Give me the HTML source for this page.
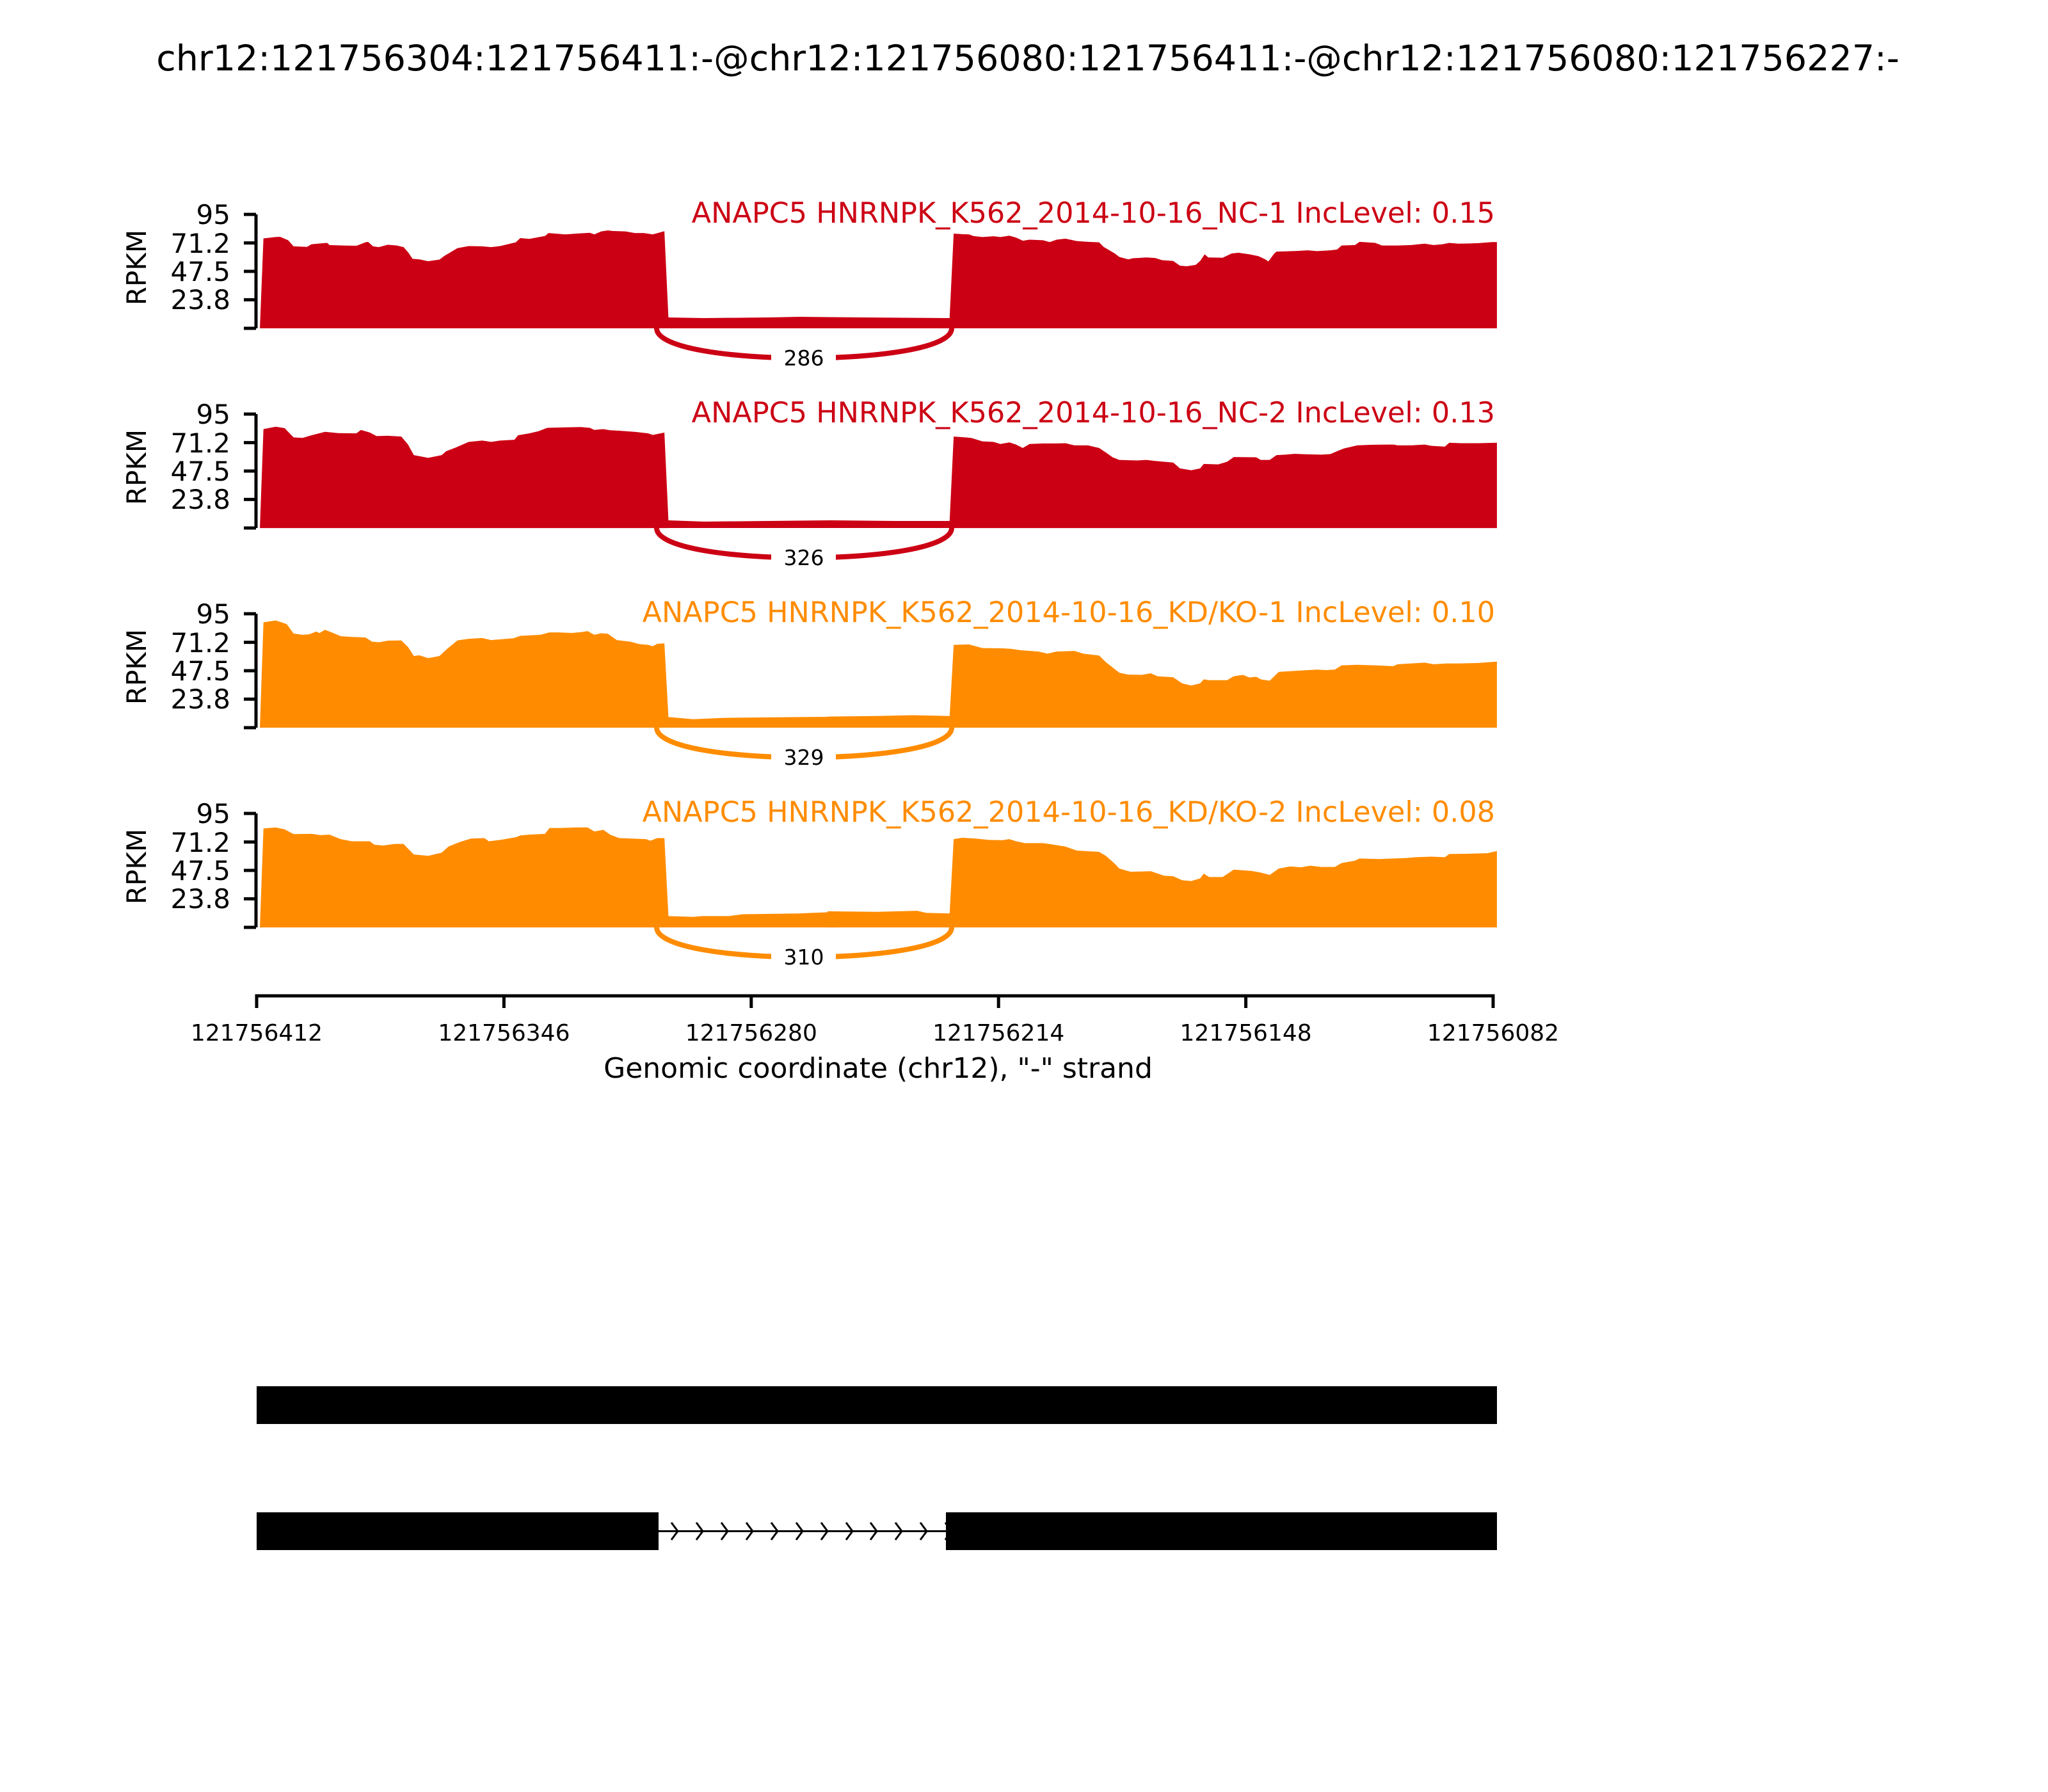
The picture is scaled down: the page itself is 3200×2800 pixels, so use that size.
<!DOCTYPE html>
<html><head><meta charset="utf-8"><style>
html,body{margin:0;padding:0;background:#fff;}
svg{display:block;}
text{font-family:"DejaVu Sans","Liberation Sans",sans-serif;}
</style></head><body>
<svg width="3200" height="2800" viewBox="0 0 3200 2800" xmlns="http://www.w3.org/2000/svg">
<rect width="3200" height="2800" fill="#fff"/>
<text x="1606" y="110" font-size="55.5" text-anchor="middle" fill="#000">chr12:121756304:121756411:-@chr12:121756080:121756411:-@chr12:121756080:121756227:-</text>

<!-- Panel 1 -->
<g fill="#cc0014">
<polygon transform="translate(150,280) scale(0.70151,0.41459)" points="365,562 373,223 400,218 410,217 428,230 440,253 470,255 480,245 500,242 515,240 520,248 550,250 580,251 600,238 606,236 617,253 630,256 650,247 670,250 685,256 695,275 705,300 720,302 740,309 765,303 775,290 805,260 830,252 860,253 880,256 900,252 935,238 945,222 965,225 1000,214 1008,203 1045,208 1070,205 1100,202 1110,208 1125,197 1140,193 1150,195 1180,197 1200,203 1220,203 1240,208 1266,196 1275,522 1275,562"/>
<polygon points="1044,513 1044,496 1100,497 1200,496 1250,495 1350,496 1484,497 1484,513"/>
<polygon transform="translate(1300,280) scale(0.70151,0.41459)" points="262,562 262,520 271,205 290,207 305,208 315,214 335,218 360,215 375,218 395,213 410,220 425,232 440,228 470,230 485,237 500,228 520,224 545,233 570,236 595,238 605,255 630,280 640,293 660,302 670,298 700,295 720,297 735,305 760,308 775,326 790,328 810,323 820,308 830,283 838,295 870,296 890,280 905,277 930,283 950,290 965,302 972,310 985,280 990,273 1010,272 1040,270 1060,268 1080,271 1110,268 1125,265 1135,250 1165,248 1175,236 1210,240 1225,250 1260,250 1290,248 1320,243 1340,248 1360,245 1375,240 1395,243 1420,242 1440,241 1470,237 1481,237 1481,562"/>
</g>
<path d="M1026,513 C1026,575 1487,575 1487,513" fill="none" stroke="#cc0014" stroke-width="8"/>
<rect x="1205" y="540" width="101" height="40" fill="#fff"/>
<text x="1256" y="571" font-size="33" text-anchor="middle">286</text>
<text x="2336" y="348" font-size="44.5" text-anchor="end" fill="#cc0014">ANAPC5 HNRNPK_K562_2014-10-16_NC-1 IncLevel: 0.15</text>

<!-- Panel 2 -->
<g fill="#cc0014">
<polygon transform="translate(150,280) scale(0.70151,0.41459)" points="365,1315 373,942 400,933 420,938 440,973 460,975 480,965 510,952 540,957 580,958 590,945 610,955 625,968 650,967 680,970 695,1000 708,1040 740,1050 770,1040 780,1025 800,1012 830,990 860,985 880,990 900,985 932,982 940,965 965,958 985,950 1005,937 1050,935 1080,934 1100,937 1110,945 1130,942 1145,946 1165,948 1200,952 1230,958 1240,964 1266,955 1275,1287 1275,1315"/>
<polygon points="1044,825 1044,813 1100,815 1200,814 1300,813 1400,814 1484,814 1484,825"/>
<polygon transform="translate(1300,280) scale(0.70151,0.41459)" points="262,1315 262,1287 271,970 290,972 310,975 335,988 360,990 375,998 395,992 410,1000 425,1013 440,998 470,996 500,996 520,995 540,1003 570,1003 595,1013 610,1030 625,1048 640,1058 680,1060 700,1058 720,1062 760,1068 775,1090 800,1097 820,1090 828,1073 860,1075 880,1065 895,1047 945,1048 955,1058 975,1058 990,1040 1010,1038 1030,1035 1060,1037 1090,1038 1110,1036 1125,1025 1140,1015 1170,1003 1200,1001 1250,1000 1260,1003 1290,1003 1320,1000 1335,1005 1365,1008 1375,993 1400,995 1440,995 1481,993 1481,1315"/>
</g>
<path d="M1026,825 C1026,887 1487,887 1487,825" fill="none" stroke="#cc0014" stroke-width="8"/>
<rect x="1205" y="852" width="101" height="40" fill="#fff"/>
<text x="1256" y="883" font-size="33" text-anchor="middle">326</text>
<text x="2336" y="660" font-size="44.5" text-anchor="end" fill="#cc0014">ANAPC5 HNRNPK_K562_2014-10-16_NC-2 IncLevel: 0.13</text>

<!-- Panel 3 -->
<g fill="#ff8c00">
<polygon transform="translate(150,904) scale(0.70151,0.41459)" points="365,562 373,165 400,158 410,163 425,172 440,207 460,212 475,210 490,200 498,205 510,193 525,203 545,217 570,220 600,222 615,238 630,240 650,234 680,233 695,258 708,292 720,289 740,300 765,292 780,268 805,233 830,227 860,224 880,232 930,225 945,216 990,212 1010,203 1030,203 1060,205 1080,202 1095,198 1110,212 1125,206 1140,208 1160,232 1190,238 1210,247 1230,250 1240,255 1250,246 1266,244 1275,522 1330,530 1400,525 1568,522 1650,521 1650,562"/>
<polygon transform="translate(1300,904) scale(0.70151,0.41459)" points="-10,562 -10,520 100,518 180,515 262,518 271,250 305,248 320,255 335,262 380,263 400,265 420,270 460,275 480,283 500,275 540,273 560,283 595,290 610,315 640,355 660,362 690,363 710,357 725,368 760,372 780,395 800,403 820,395 828,380 840,383 880,383 895,368 915,363 930,373 945,370 955,380 975,385 995,352 1010,350 1040,347 1080,343 1100,345 1120,343 1135,327 1170,325 1210,327 1250,330 1260,323 1290,320 1320,317 1340,323 1370,320 1400,320 1440,318 1481,313 1481,562"/>
</g>
<path d="M1026,1137 C1026,1199 1487,1199 1487,1137" fill="none" stroke="#ff8c00" stroke-width="8"/>
<rect x="1205" y="1164" width="101" height="40" fill="#fff"/>
<text x="1256" y="1195" font-size="33" text-anchor="middle">329</text>
<text x="2336" y="972" font-size="44.5" text-anchor="end" fill="#ff8c00">ANAPC5 HNRNPK_K562_2014-10-16_KD/KO-1 IncLevel: 0.10</text>

<!-- Panel 4 -->
<g fill="#ff8c00">
<polygon transform="translate(150,904) scale(0.70151,0.41459)" points="365,1315 373,942 400,938 420,945 440,963 480,962 500,967 520,965 545,982 570,990 610,990 620,1003 640,1006 665,1000 685,1000 695,1018 708,1040 740,1045 770,1033 785,1010 810,993 835,980 865,978 875,990 900,985 935,975 945,968 965,965 1000,962 1010,940 1030,940 1070,938 1095,938 1110,953 1130,947 1145,965 1165,978 1225,982 1235,988 1250,978 1266,978 1275,1272 1330,1275 1350,1272 1410,1272 1440,1265 1568,1262 1650,1256 1650,1315"/>
<polygon transform="translate(1300,904) scale(0.70151,0.41459)" points="-10,1315 -10,1254 100,1256 190,1252 210,1260 262,1262 271,982 290,977 320,980 350,985 380,986 395,982 410,990 430,997 470,997 490,1002 520,1010 545,1025 595,1030 610,1045 630,1075 640,1093 665,1105 710,1103 740,1120 760,1122 780,1137 800,1140 820,1130 828,1112 840,1125 870,1125 895,1097 935,1102 955,1108 975,1117 995,1093 1020,1085 1045,1088 1065,1082 1090,1087 1120,1087 1135,1072 1165,1063 1175,1055 1220,1057 1250,1055 1280,1053 1300,1050 1335,1048 1365,1050 1375,1038 1420,1037 1460,1035 1481,1027 1481,1315"/>
</g>
<path d="M1026,1449 C1026,1511 1487,1511 1487,1449" fill="none" stroke="#ff8c00" stroke-width="8"/>
<rect x="1205" y="1476" width="101" height="40" fill="#fff"/>
<text x="1256" y="1507" font-size="33" text-anchor="middle">310</text>
<text x="2336" y="1284" font-size="44.5" text-anchor="end" fill="#ff8c00">ANAPC5 HNRNPK_K562_2014-10-16_KD/KO-2 IncLevel: 0.08</text>

<!-- Y axes -->
<g stroke="#000" stroke-width="5" fill="none">
<path d="M400,335 V513 M381,335 H400 M381,379.6 H400 M381,424 H400 M381,468.4 H400 M381,513 H400"/>
<path d="M400,647 V825 M381,647 H400 M381,691.6 H400 M381,736 H400 M381,780.4 H400 M381,825 H400"/>
<path d="M400,959 V1137 M381,959 H400 M381,1003.6 H400 M381,1048 H400 M381,1092.4 H400 M381,1137 H400"/>
<path d="M400,1271 V1449 M381,1271 H400 M381,1315.6 H400 M381,1360 H400 M381,1404.4 H400 M381,1449 H400"/>
</g>
<g font-size="42" text-anchor="end" fill="#000">
<text x="360" y="350">95</text><text x="360" y="395">71.2</text><text x="360" y="439">47.5</text><text x="360" y="483">23.8</text>
<text x="360" y="662">95</text><text x="360" y="707">71.2</text><text x="360" y="751">47.5</text><text x="360" y="795">23.8</text>
<text x="360" y="974">95</text><text x="360" y="1019">71.2</text><text x="360" y="1063">47.5</text><text x="360" y="1107">23.8</text>
<text x="360" y="1286">95</text><text x="360" y="1331">71.2</text><text x="360" y="1375">47.5</text><text x="360" y="1419">23.8</text>
</g>
<g font-size="42" text-anchor="middle" fill="#000">
<text transform="translate(228,418) rotate(-90)">RPKM</text>
<text transform="translate(228,730) rotate(-90)">RPKM</text>
<text transform="translate(228,1042) rotate(-90)">RPKM</text>
<text transform="translate(228,1354) rotate(-90)">RPKM</text>
</g>

<!-- X axis -->
<g stroke="#000" stroke-width="5" fill="none">
<path d="M398.5,1556 H2335.5 M401,1556 V1575 M787.4,1556 V1575 M1173.8,1556 V1575 M1560.2,1556 V1575 M1946.6,1556 V1575 M2333,1556 V1575"/>
</g>
<g font-size="36" text-anchor="middle" fill="#000">
<text x="401" y="1626">121756412</text>
<text x="787.4" y="1626">121756346</text>
<text x="1173.8" y="1626">121756280</text>
<text x="1560.2" y="1626">121756214</text>
<text x="1946.6" y="1626">121756148</text>
<text x="2333" y="1626">121756082</text>
</g>
<text x="1372" y="1684" font-size="44" text-anchor="middle" fill="#000">Genomic coordinate (chr12), "-" strand</text>

<!-- Gene tracks -->
<rect x="401" y="2166" width="1938" height="59" fill="#000"/>
<rect x="401" y="2363" width="628" height="59" fill="#000"/>
<rect x="1478" y="2363" width="861" height="59" fill="#000"/>
<line x1="1029" y1="2392.5" x2="1478" y2="2392.5" stroke="#000" stroke-width="3"/>
<g stroke="#000" stroke-width="3" fill="none">
<path d="M1049,2379 L1059,2392.5 L1049,2406 M1088,2379 L1098,2392.5 L1088,2406 M1127,2379 L1137,2392.5 L1127,2406 M1166,2379 L1176,2392.5 L1166,2406 M1205,2379 L1215,2392.5 L1205,2406 M1244,2379 L1254,2392.5 L1244,2406 M1283,2379 L1293,2392.5 L1283,2406 M1322,2379 L1332,2392.5 L1322,2406 M1360,2379 L1370,2392.5 L1360,2406 M1399,2379 L1409,2392.5 L1399,2406 M1438,2379 L1448,2392.5 L1438,2406 M1477,2379 L1479,2382 M1477,2406 L1479,2403"/>
</g>
</svg>
</body></html>
